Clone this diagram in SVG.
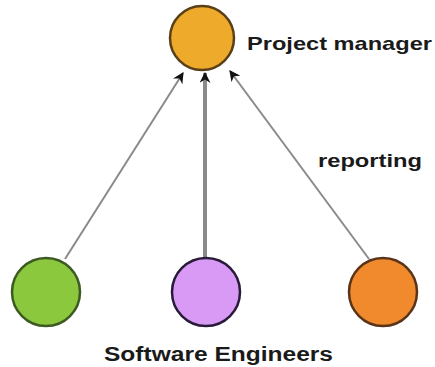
<svg xmlns="http://www.w3.org/2000/svg" width="435" height="367" viewBox="0 0 435 367">
<defs>
<style>
.node{stroke-width:2.5}
.lbl{font-family:"Liberation Sans",Arial,sans-serif;font-weight:bold;fill:#1a1a1a}
.edge{stroke:#8a8a8a;fill:none}
</style>
<marker id="ah" viewBox="0 0 10 10" refX="9" refY="5" markerWidth="11" markerHeight="11" markerUnits="userSpaceOnUse" orient="auto">
<path d="M0,0 L10,5 L0,10 L3,5 z" fill="#111"/>
</marker>
</defs>
<rect width="435" height="367" fill="#fff"/>
<g id="connectors">
<line class="edge" x1="65" y1="259" x2="183" y2="73" stroke-width="2" marker-end="url(#ah)"/>
<line class="edge" x1="205" y1="257" x2="205" y2="73" stroke-width="4" marker-end="url(#ah)"/>
<line class="edge" x1="369" y1="259" x2="230" y2="71" stroke-width="2" marker-end="url(#ah)"/>
</g>
<g id="pm">
<circle class="node" cx="202" cy="38" r="32" fill="#eeaa2a" stroke="#5a4018"/>
<text class="lbl" x="247" y="50" font-size="19" textLength="185" lengthAdjust="spacingAndGlyphs">Project manager</text>
</g>
<g id="se1">
<circle class="node" cx="46" cy="292" r="34" fill="#8bc83e" stroke="#3c5a22"/>
</g>
<g id="se2">
<circle class="node" cx="206" cy="292" r="34" fill="#d99af5" stroke="#2a1a3a"/>
</g>
<g id="se3">
<circle class="node" cx="383" cy="292" r="34" fill="#f08a2c" stroke="#5a3418"/>
</g>
<text id="reporting" class="lbl" x="318" y="167" font-size="18" textLength="104" lengthAdjust="spacingAndGlyphs">reporting</text>
<text id="se-label" class="lbl" x="104" y="361" font-size="20" textLength="229" lengthAdjust="spacingAndGlyphs">Software Engineers</text>
</svg>
